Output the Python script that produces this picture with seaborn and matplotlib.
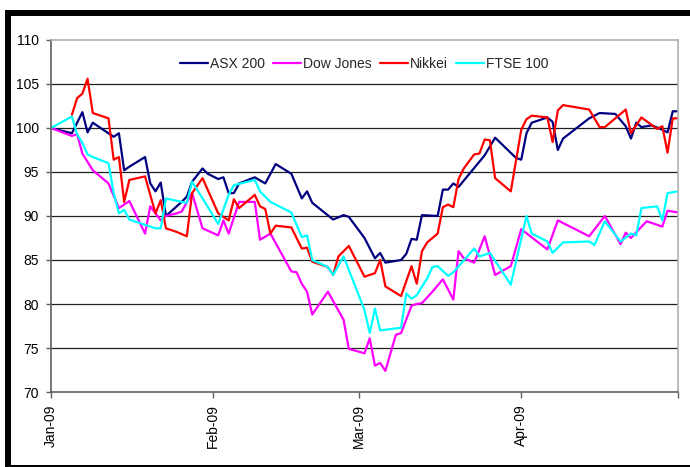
import pandas as pd
import matplotlib
matplotlib.use("Agg")
import matplotlib.pyplot as plt
import matplotlib.patches as mpatches
import seaborn as sns

# ---------------- data (index level, 2009) ----------------
asx_dates = ["01-01", "01-05", "01-07", "01-08", "01-09", "01-13", "01-14", "01-15", "01-16", "01-19",
             "01-20", "01-21", "01-22", "01-23", "01-26", "01-27", "01-28", "01-30", "01-31", "02-02",
             "02-03", "02-04", "02-05", "02-06", "02-09", "02-11", "02-13", "02-16", "02-18", "02-19",
             "02-20", "02-24", "02-26", "02-27", "03-02", "03-04", "03-05", "03-06", "03-09", "03-10",
             "03-11", "03-12", "03-13", "03-16", "03-17", "03-18", "03-19", "03-20", "03-25", "03-27",
             "03-31", "04-01", "04-02", "04-03", "04-06", "04-07", "04-08", "04-09", "04-14", "04-16",
             "04-19", "04-21", "04-22", "04-23", "04-24", "04-26", "04-28", "04-29", "04-30", "05-01"]
asx_values = [100.0, 99.4, 101.8, 99.5, 100.6, 99.0, 99.4, 95.2, 95.6, 96.7,
              93.7, 92.8, 93.8, 90.0, 91.6, 92.2, 93.9, 95.4, 94.8, 94.2,
              94.4, 92.6, 92.6, 93.7, 94.4, 93.7, 95.9, 94.8, 92.0, 92.8,
              91.5, 89.6, 90.1, 89.9, 87.5, 85.2, 85.8, 84.7, 85.0, 85.7,
              87.4, 87.3, 90.1, 90.0, 93.0, 93.0, 93.7, 93.3, 96.9, 98.9,
              96.6, 96.4, 99.4, 100.6, 101.2, 100.7, 97.5, 98.8, 101.1, 101.7,
              101.6, 100.2, 98.8, 100.6, 100.1, 100.3, 99.8, 99.5, 101.9, 101.9]

dow_dates = ["01-01", "01-05", "01-06", "01-07", "01-09", "01-12", "01-14", "01-16", "01-19", "01-20",
             "01-22", "01-23", "01-25", "01-26", "01-28", "01-30", "02-02", "02-03", "02-04", "02-06",
             "02-09", "02-10", "02-12", "02-16", "02-17", "02-18", "02-19", "02-20", "02-23", "02-26",
             "02-27", "03-02", "03-03", "03-04", "03-05", "03-06", "03-08", "03-09", "03-11", "03-12",
             "03-13", "03-15", "03-17", "03-19", "03-20", "03-21", "03-23", "03-25", "03-27", "03-30",
             "04-01", "04-06", "04-08", "04-14", "04-17", "04-20", "04-21", "04-22", "04-25", "04-28",
             "04-29", "05-01"]
dow_values = [100.0, 99.1, 99.3, 97.1, 95.2, 93.7, 90.9, 91.7, 88.0, 91.1,
              89.5, 90.0, 90.3, 90.5, 92.6, 88.6, 87.8, 89.5, 88.0, 91.6,
              91.6, 87.3, 88.0, 83.7, 83.6, 82.3, 81.4, 78.8, 81.4, 78.2,
              74.9, 74.4, 76.1, 73.0, 73.3, 72.4, 76.5, 76.7, 79.8, 80.0,
              80.1, 81.4, 82.8, 80.5, 86.0, 85.2, 84.7, 87.7, 83.3, 84.3,
              88.5, 86.2, 89.5, 87.7, 90.0, 86.8, 88.1, 87.5, 89.4, 88.8,
              90.6, 90.4]

nikkei_dates = ["01-05", "01-06", "01-07", "01-08", "01-09", "01-12", "01-13", "01-14", "01-15", "01-16",
                "01-19", "01-21", "01-22", "01-23", "01-25", "01-27", "01-28", "01-30", "02-02", "02-04",
                "02-05", "02-06", "02-09", "02-10", "02-11", "02-12", "02-13", "02-16", "02-18", "02-19",
                "02-20", "02-23", "02-24", "02-25", "02-27", "03-02", "03-04", "03-05", "03-06", "03-09",
                "03-11", "03-12", "03-13", "03-14", "03-16", "03-17", "03-18", "03-19", "03-20", "03-21",
                "03-23", "03-24", "03-25", "03-26", "03-27", "03-30", "04-01", "04-02", "04-03", "04-06",
                "04-07", "04-08", "04-09", "04-14", "04-16", "04-17", "04-21", "04-22", "04-24", "04-27",
                "04-28", "04-29", "04-30", "05-01"]
nikkei_values = [101.5, 103.4, 103.9, 105.6, 101.7, 101.1, 96.4, 96.7, 91.6, 94.1,
                 94.5, 90.3, 91.8, 88.6, 88.2, 87.7, 92.6, 94.3, 90.3, 89.5,
                 91.9, 90.9, 92.4, 91.1, 90.8, 88.0, 88.9, 88.7, 86.3, 86.4,
                 84.8, 84.2, 83.3, 85.4, 86.6, 83.1, 83.5, 85.0, 82.0, 80.9,
                 84.3, 82.3, 86.0, 87.0, 88.0, 91.0, 91.3, 91.0, 94.2, 95.4,
                 97.0, 97.1, 98.7, 98.6, 94.3, 92.8, 99.8, 101.0, 101.4, 101.2,
                 98.4, 102.0, 102.6, 102.1, 100.1, 100.1, 102.1, 99.4, 101.2, 99.9,
                 100.2, 97.2, 101.1, 101.1]

ftse_dates = ["01-01", "01-05", "01-06", "01-07", "01-08", "01-09", "01-12", "01-13", "01-14", "01-15",
              "01-16", "01-19", "01-21", "01-22", "01-23", "01-26", "01-27", "01-28", "01-30", "02-02",
              "02-04", "02-05", "02-07", "02-09", "02-10", "02-12", "02-16", "02-17", "02-18", "02-19",
              "02-20", "02-23", "02-24", "02-26", "03-02", "03-03", "03-04", "03-05", "03-09", "03-10",
              "03-11", "03-12", "03-13", "03-14", "03-15", "03-16", "03-18", "03-19", "03-23", "03-24",
              "03-26", "03-30", "04-02", "04-03", "04-06", "04-07", "04-09", "04-14", "04-15", "04-17",
              "04-20", "04-22", "04-23", "04-24", "04-27", "04-28", "04-29", "05-01"]
ftse_values = [100.0, 101.3, 99.3, 98.3, 97.0, 96.7, 96.0, 92.6, 90.3, 90.7,
               89.6, 89.0, 88.6, 88.6, 92.0, 91.6, 91.5, 93.9, 92.0, 89.1,
               92.4, 93.5, 93.8, 94.1, 92.8, 91.6, 90.4, 89.0, 87.6, 87.8,
               85.0, 84.2, 83.3, 85.4, 79.3, 76.7, 79.5, 77.0, 77.3, 81.2,
               80.6, 81.0, 82.0, 82.9, 84.2, 84.3, 83.2, 83.6, 86.3, 85.4,
               85.8, 82.2, 90.0, 88.0, 87.1, 85.8, 87.0, 87.1, 86.7, 89.4,
               87.1, 88.0, 87.8, 90.9, 91.1, 89.5, 92.6, 92.8]

series_names = ["ASX 200", "Dow Jones", "Nikkei", "FTSE 100"]
series_colors = ["#000080", "#FF00FF", "#FF0000", "#00FFFF"]

month_ticks = ["2009-01-01", "2009-02-01", "2009-03-01", "2009-04-01", "2009-05-01"]
month_labels = ["Jan-09", "Feb-09", "Mar-09", "Apr-09", ""]
y_ticks = [70, 75, 80, 85, 90, 95, 100, 105, 110]

# ---------------- build long table ----------------
frames = []
for name, d, v in zip(series_names,
                      [asx_dates, dow_dates, nikkei_dates, ftse_dates],
                      [asx_values, dow_values, nikkei_values, ftse_values]):
    frames.append(pd.DataFrame({"date": pd.to_datetime(["2009-" + s for s in d]),
                                "value": v, "index": name}))
df = pd.concat(frames, ignore_index=True)

# ---------------- plot ----------------
sns.set_theme(style="white")
plt.rcParams["font.family"] = ["Liberation Sans", "DejaVu Sans"]

fig = plt.figure(figsize=(6.9, 4.67), dpi=100)
ax = fig.add_axes([51 / 690, 1 - 392 / 467, (678 - 51) / 690, (392 - 40) / 467])

sns.lineplot(data=df, x="date", y="value", hue="index", hue_order=series_names,
             palette=series_colors, linewidth=1.6, ax=ax, legend=True, estimator=None)

ax.set_ylim(70, 110)
ax.set_yticks(y_ticks)
ax.set_xlim(pd.Timestamp(month_ticks[0]), pd.Timestamp(month_ticks[-1]))
ax.set_xticks(pd.to_datetime(month_ticks))
ax.set_xticklabels(month_labels, rotation=90, fontsize=10, color="black")
ax.tick_params(axis="y", labelsize=10, labelcolor="black", length=3.5, width=1,
               color="#606060", direction="out", pad=5, left=True)
ax.tick_params(axis="x", length=4, width=1, color="#606060", direction="out", pad=5, bottom=True)
ax.set_xlabel("")
ax.set_ylabel("")

for yv in y_ticks[1:-1]:
    ax.axhline(yv, color="#202020", linewidth=0.9, zorder=0.5)

ax.spines["left"].set_color("#606060")
ax.spines["left"].set_linewidth(1.2)
ax.spines["bottom"].set_color("#606060")
ax.spines["bottom"].set_linewidth(1.2)
ax.spines["top"].set_color("#b0b0b0")
ax.spines["top"].set_linewidth(1.2)
ax.spines["right"].set_color("#b0b0b0")
ax.spines["right"].set_linewidth(1.2)

handles, labels = ax.get_legend_handles_labels()
for h in handles:
    h.set_linewidth(1.6)
ax.legend(handles, labels, loc="center", bbox_to_anchor=(0.5, 0.932), ncol=4,
          frameon=False, fontsize=10, handlelength=2.0, handletextpad=0.15,
          columnspacing=0.6, borderaxespad=0)

# outer chart frame (thick black border, cropped at right/bottom)
frame = mpatches.Rectangle((8 / 690, -1 / 467), (700 - 8) / 690, (468 - 13) / 467,
                           transform=fig.transFigure, fill=False, edgecolor="black",
                           linewidth=4.3, clip_on=False)
fig.patches.append(frame)

fig.savefig("out.png", dpi=100, facecolor="white")
